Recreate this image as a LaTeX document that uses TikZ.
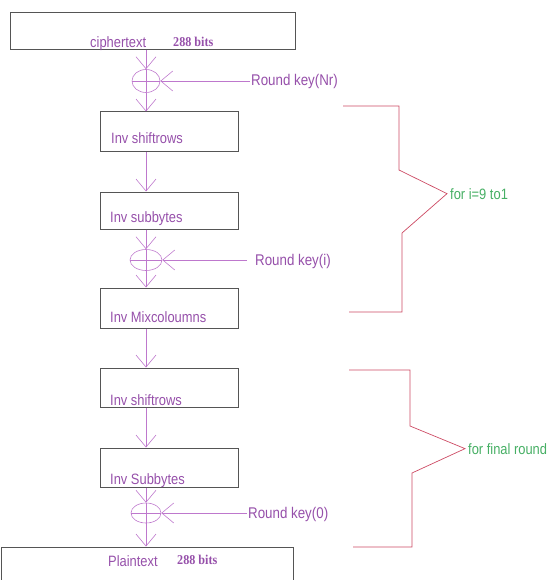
\documentclass[tikz,border=0pt]{standalone}
\usepackage{fontspec}
\setmainfont{Liberation Sans}
\newfontfamily\narrowfont[FakeStretch=0.86]{Liberation Sans}
\newfontfamily\bitsfont[FakeStretch=0.9]{Liberation Serif}
\usetikzlibrary{arrows.meta, shapes.geometric, calc}

\definecolor{flowline}{RGB}{190,120,205}
\definecolor{labeltext}{RGB}{150,80,170}
\definecolor{boxline}{RGB}{85,85,85}
\definecolor{loopred}{RGB}{205,75,100}
\definecolor{loopgreen}{RGB}{70,175,100}

\begin{document}
\begin{tikzpicture}[x=1pt, y=-1pt,
    box/.style={draw=boxline, line width=1pt, inner sep=0pt, minimum width=138pt},
    lbl/.style={anchor=base west, inner sep=0pt, text=labeltext,
                font=\narrowfont\fontsize{15}{17}\selectfont},
    bits/.style={anchor=base west, inner sep=0pt, text=labeltext,
                 font=\bitsfont\bfseries\fontsize{13.5}{15}\selectfont},
    keytxt/.style={anchor=base west, inner sep=0pt, text=labeltext,
                   font=\narrowfont\fontsize{15.5}{17}\selectfont},
    xorop/.style={ellipse, draw=flowline, line width=0.6pt, inner sep=0pt,
      path picture={\draw[flowline, line width=0.6pt]
        (path picture bounding box.north) -- (path picture bounding box.south)
        (path picture bounding box.west) -- (path picture bounding box.east);}},
    flow/.style={draw=flowline, line width=0.6pt,
                 -{Straight Barb[length=12pt, width=20pt]}},
    loopbrace/.style={draw=loopred, line width=0.7pt},
    looptxt/.style={anchor=base west, inner sep=0pt, text=loopgreen,
                    font=\narrowfont\fontsize{15}{17}\selectfont}
  ]
  \useasboundingbox (0,0) rectangle (552,580);

  % Boxes
  \node[box, minimum width=285pt, minimum height=37pt] (ct) at (152.5,31.5) {};
  \node[box, minimum height=40pt] (sr1) at (169,132) {};
  \node[box, minimum height=37pt] (sb1) at (169,210.5) {};
  \node[box, minimum height=40pt] (mc) at (169,308) {};
  \node[box, minimum height=39pt] (sr2) at (169,387.5) {};
  \node[box, minimum height=39pt] (sb2) at (169,467.5) {};
  \node[box, minimum width=292pt, minimum height=60pt] (pt) at (147,577) {};

  % Box texts
  \node[lbl] (ctname) at (90,48) {ciphertext};
  \node[bits] (ctbits) at (173,47) {288 bits};
  \node[lbl] (sr1t) at (111,143) {Inv shiftrows};
  \node[lbl] (sb1t) at (110,222) {Inv subbytes};
  \node[lbl] (mct) at (110,322) {Inv Mixcoloumns};
  \node[lbl] (sr2t) at (110,405) {Inv shiftrows};
  \node[lbl] (sb2t) at (110,484) {Inv Subbytes};
  \node[lbl] (ptname) at (108,566) {Plaintext};
  \node[bits] (ptbits) at (177,564) {288 bits};

  % XOR with round keys
  \node[xorop, minimum width=28pt, minimum height=23pt] (x1) at (146,81) {};
  \node[xorop, minimum width=32pt, minimum height=21pt] (x2) at (146,260) {};
  \node[xorop, minimum width=30pt, minimum height=20pt] (x3) at (146,513) {};
  \node[keytxt] (k1) at (251,86) {Round key(Nr)};
  \node[keytxt] (k2) at (255,265) {Round key(i)};
  \node[keytxt] (k3) at (248,518) {Round key(0)};

  % Flow
  \draw[flow] (ct.south -| x1) -- (x1.north);
  \draw[flow] (x1.south) -- (sr1.north -| x1);
  \draw[flow] (sr1.south -| x1) -- (sb1.north -| x1);
  \draw[flow] (sb1.south -| x2) -- (x2.north);
  \draw[flow] (x2.south) -- (mc.north -| x2);
  \draw[flow] (mc.south -| x2) -- (sr2.north -| x2);
  \draw[flow] (sr2.south -| x3) -- (sb2.north -| x3);
  \draw[flow] (sb2.south -| x3) -- (x3.north);
  \draw[flow] (x3.south) -- (pt.north -| x3);
  \draw[flow] ([xshift=-1pt]x1.east -| k1.west) -- (x1.east);
  \draw[flow] ([xshift=-8pt]x2.east -| k2.west) -- (x2.east);
  \draw[flow] ([xshift=-1pt]x3.east -| k3.west) -- (x3.east);

  % Loop brackets
  \node[looptxt] (loop) at (450,199) {for i=9 to1};
  \node[looptxt] (final) at (468,454) {for final round};
  \draw[loopbrace] (343,106) -- (399,106) -- (399,170)
    -- ([xshift=-3pt]loop.west) -- (402,233) -- (402,312) -- (349,312);
  \draw[loopbrace] (349,370) -- (410,370) -- (410,426)
    -- ([xshift=-3pt]final.west) -- (412,473) -- (412,547) -- (353,547);
\end{tikzpicture}
\end{document}
